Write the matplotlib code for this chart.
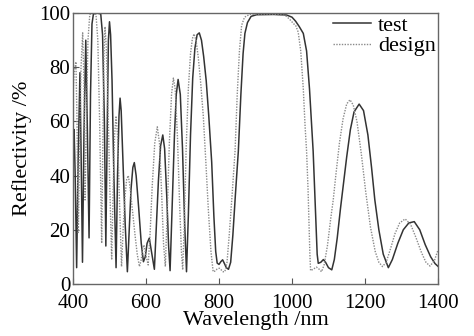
import matplotlib
matplotlib.use('Agg')
import matplotlib.pyplot as plt

# ---- measured spectrum (test) ----
test_wl = [400, 403, 406, 410, 414, 419, 422, 426, 430, 435, 439, 444, 448, 452, 456, 466,
           476, 481, 486, 490, 494, 497, 500, 503, 507, 512, 518, 522, 526, 529, 532, 537,
           543, 549, 554, 559, 564, 568, 573, 580, 587, 593, 598, 603, 609, 615, 623, 628,
           634, 640, 646, 651, 657, 662, 666, 672, 678, 683, 688, 694, 700, 706, 711, 716,
           722, 728, 734, 740, 746, 752, 758, 765, 772, 780, 786, 791, 795, 800, 805, 810,
           815, 820, 826, 832, 838, 845, 853, 860, 866, 871, 878, 888, 903, 950, 985, 1000,
           1010, 1020, 1031, 1040, 1048, 1054, 1058, 1062, 1066, 1069, 1072, 1079, 1086, 1092,
           1100, 1109, 1116, 1124, 1133, 1141, 1150, 1160, 1170, 1184, 1196, 1208, 1218, 1227,
           1238, 1250, 1264, 1275, 1290, 1305, 1320, 1335, 1350, 1365, 1380, 1392, 1400]
test_r = [52, 57, 40, 6, 45, 78, 50, 8, 55, 90, 60, 17, 70, 96, 99.7, 100,
          99.7, 92, 60, 14, 60, 90, 96.8, 92, 75, 40, 6, 40, 62, 68.6, 64, 45,
          22, 4.5, 20, 35, 43, 44.8, 40, 28, 15, 8.2, 10, 15, 16.9, 12, 5.4, 20,
          38, 51, 55, 50, 32, 14, 4.9, 30, 55, 70, 75.5, 70, 50, 22, 4.5, 25,
          55, 76, 87, 92, 92.7, 90, 84, 75, 62, 45, 25, 12, 7.7, 7.2, 8.2, 8.9,
          7.5, 6, 5.4, 8, 18, 33, 49, 70, 85, 92.5, 96.5, 98.8, 99.4, 99.5, 99.3, 98.5,
          97, 95, 92.5, 86, 72, 58, 49, 35, 20, 11, 7.6, 8, 9, 8,
          6, 5.2, 9, 17, 28, 37, 47, 57, 63.5, 66.4, 64, 55, 43, 31,
          20, 11, 6, 9, 15, 20, 22.5, 23, 20, 14.5, 10, 7.5, 6.5]

# ---- design spectrum ----
design_wl = [400, 403, 408, 411, 414.6, 418, 422, 426.5, 430, 433, 437, 441, 446, 455, 463, 468,
             473, 478.6, 482, 485, 487.7, 491, 496, 501, 506, 510, 514, 518, 522, 527, 533, 538,
             543, 547, 551.5, 556, 563, 570, 576, 582, 587, 591, 594.5, 599, 606, 611, 617, 624,
             631, 637, 643, 648, 653, 659, 664, 670, 675, 680, 686, 692, 697, 700.5, 705, 710,
             716, 722, 727, 731.5, 737, 743, 750, 757, 764, 771, 778, 784, 790, 795, 801, 806,
             811, 816, 822, 828, 836, 844, 850, 856, 862, 870, 885, 950, 975, 985, 995, 1005,
             1010, 1017, 1024, 1031, 1036, 1040, 1044, 1047, 1049, 1051, 1059, 1067, 1074, 1081, 1088, 1097,
             1106, 1113, 1120, 1130, 1140, 1150, 1159, 1168, 1178, 1190, 1202, 1215, 1228, 1238, 1248, 1258,
             1270, 1282, 1295, 1310, 1325, 1340, 1355, 1367, 1378, 1390, 1400]
design_r = [70, 78, 82, 60, 19, 50, 80, 92.7, 75, 31, 60, 90, 99.5, 100, 99.5, 90,
            60, 15, 55, 85, 95, 88, 65, 35, 8.9, 35, 55, 62, 55, 32, 6.4, 22,
            33, 38.5, 40, 36, 27, 18, 11, 6.4, 9, 13, 14.4, 11, 7, 18, 36, 52,
            58, 52, 33, 15, 6.4, 30, 52, 70, 76, 72, 55, 30, 12, 5.2, 22, 50,
            72, 85, 90.5, 92.3, 90, 84, 74, 62, 45, 27, 12, 4.5, 4.8, 5.5, 5.8, 5.2,
            4.5, 4.5, 8, 18, 33, 49, 70, 86, 95.5, 98.5, 99.6, 99.6, 99.3, 98.8, 97.5, 96,
            95.5, 93, 86, 72, 58, 49, 35, 20, 11, 4.9, 5.5, 6.2, 5.5, 4.5, 7, 14,
            24, 31, 40, 52, 61, 66.5, 68, 66, 60, 48, 34, 21, 12, 8, 6.4, 8,
            13, 18.5, 22.5, 24, 22, 17, 11.5, 8, 6.6, 8.5, 12.5]

plt.rcParams['font.family'] = ['Liberation Serif', 'DejaVu Serif']
plt.rcParams['font.size'] = 16

fig = plt.figure(figsize=(4.74, 3.36), dpi=100)
ax = fig.add_axes([0.154, 0.155, 0.770, 0.806])

ax.plot(test_wl, test_r, color='#333333', linewidth=1.1, label='test')
ax.plot(design_wl, design_r, color='#8a8a8a', linewidth=1.0, linestyle=(0, (1, 1)), label='design')

ax.set_xlim(400, 1400)
ax.set_ylim(0, 100)
ax.set_xticks([400, 600, 800, 1000, 1200, 1400])
ax.set_yticks([0, 20, 40, 60, 80, 100])
ax.tick_params(direction='in', length=4, width=0.8, color='#555555',
               labelsize=15, top=False, right=False)
ax.tick_params(axis='x', pad=7)
ax.tick_params(axis='y', pad=2)
for s in ax.spines.values():
    s.set_color('#666666')
    s.set_linewidth(1.0)

ax.set_xlabel('Wavelength /nm', labelpad=-1)
ax.set_ylabel('Reflectivity /%', labelpad=5)

ax.legend(loc='upper right', frameon=False, handlelength=1.7, handletextpad=0.3,
          labelspacing=0.0, borderaxespad=0.0, borderpad=0.1)

plt.savefig('out.png', dpi=100)
